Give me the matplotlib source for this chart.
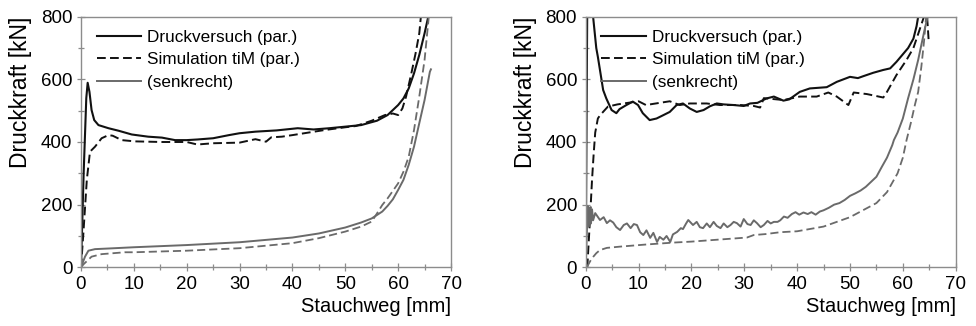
import matplotlib
matplotlib.use("Agg")
import matplotlib.pyplot as plt
from matplotlib.ticker import MultipleLocator

plt.rcParams['font.family'] = ['Liberation Sans', 'DejaVu Sans']

labels = ["Druckversuch (par.)", "Simulation tiM (par.)", "(senkrecht)"]
xlabel = "Stauchweg [mm]"
ylabel = "Druckkraft [kN]"

# ---- left panel ----
L_exp_par_x = [0, 0.5, 1.0, 1.26, 1.6, 2.0, 2.5, 3.3, 5.2, 7.1, 9.6, 12.7, 15.3, 17.8, 20, 22, 25, 28, 30, 33, 37,
               41, 44, 47, 50, 53, 56, 58, 60, 61, 62, 63, 64, 65, 65.7, 66.2]
L_exp_par_y = [0, 300, 540, 589, 560, 502, 470, 454, 444, 436, 424, 417, 414, 406, 406, 408, 412, 422, 428, 433, 437,
               444, 440, 444, 449, 454, 468, 486, 518, 539, 571, 619, 678, 747, 800, 860]
L_sim_par_x = [0, 0.45, 1.1, 1.7, 2.65, 3.9, 5.2, 6.0, 7.7, 10.2, 15.3, 20, 22, 25, 30, 33, 35, 36, 38, 40, 43,
               46, 50, 52, 55, 57.5, 59, 60, 60.8, 61.5, 62.5, 63.3, 64, 64.3, 64.6]
L_sim_par_y = [0, 109, 279, 369, 385, 412, 422, 420, 406, 402, 400, 400, 392, 396, 398, 409, 401, 415, 417, 422, 430,
               438, 447, 451, 468, 486, 491, 486, 507, 545, 619, 683, 747, 800, 850]
L_exp_sen_x = [0, 0.4, 0.76, 1.4, 2.65, 5.2, 10, 20, 30, 40, 45, 50, 53, 55, 57, 58, 59, 60, 61, 62, 63, 64, 65, 66, 66.2]
L_exp_sen_y = [0, 18, 34, 53, 58, 60, 64, 71, 80, 95, 108, 127, 143, 156, 178, 196, 217, 247, 279, 327, 385, 460, 534,
               624, 632]
L_sim_sen_x = [0, 0.5, 1.0, 2.0, 3.9, 8.3, 10, 20, 30, 40, 45, 50, 53, 55, 56, 57, 58, 60, 61, 62, 63, 64, 65, 65.8, 66.1]
L_sim_sen_y = [0, 10, 18, 34, 42, 48, 48, 53, 61, 77, 93, 114, 130, 146, 172, 199, 220, 268, 305, 353, 438, 545, 662,
               800, 860]

# ---- right panel ----
R_exp_par_x = [0, 0.3, 1.0, 1.4, 2.0, 2.3, 3.0, 3.3, 3.9, 4.9, 5.8, 6.4, 7.7, 8.9, 9.9, 10.8, 12.1, 13.4, 14.6, 15.9,
               17.2, 18.4, 19.7, 21, 22.3, 23.5, 24.8, 26.1, 28, 29.9, 31.1, 32.5, 34.2, 35.6, 37.4, 38.5, 40.5,
               42.4, 44, 45.6, 47.5, 50, 51.5, 52.5, 54.4, 56.3, 57.6, 58.8, 60, 61, 62, 62.6, 62.9, 63.3]
R_exp_par_y = [0, 850, 850, 800, 700, 672, 598, 566, 539, 502, 492, 505, 518, 529, 518, 492, 470, 475, 485, 496,
               518, 523, 507, 496, 502, 514, 523, 520, 518, 515, 523, 525, 539, 545, 532, 536, 560,
               571, 573, 575, 592, 608, 604, 610, 621, 630, 635, 656, 680, 700, 730, 770, 800, 850]
R_sim_par_x = [0.3, 0.8, 1.2, 1.5, 1.8, 2.3, 2.7, 3.5, 4.2, 6.0, 8.0, 10, 11.4, 14, 15.9, 17.8, 19.7, 22.9, 25.4,
               29.3, 31.8, 33, 33.7, 37.4, 40.5, 43.7, 45.9, 47.5, 49.7, 50.7, 53.2, 56.3, 56.9, 58.8, 60.7,
               62, 63, 64, 64.4, 64.9]
R_sim_par_y = [0, 150, 280, 360, 430, 475, 485, 500, 513, 520, 525, 530, 518, 525, 530, 518, 523, 523, 518,
               518, 515, 510, 540, 534, 545, 545, 558, 545, 518, 558, 553, 542, 557, 614, 662,
               700, 750, 800, 850, 720]
R_exp_sen_x = [0, 0.2, 0.4, 0.6, 0.8, 1.0, 1.2, 1.4, 1.8, 2.7, 3.4, 4.0, 4.6, 5.2, 5.8, 6.5, 7.2, 7.8, 8.5, 9.1,
               9.7, 10.3, 10.9, 11.5, 12.2, 12.8, 13.5, 14.0, 14.7, 15.3, 16.0, 16.5, 17.3, 18.0, 18.4, 19.0,
               19.4, 20.3, 21.0, 21.6, 22.2, 22.9, 23.5, 24.2, 24.8, 25.5, 26.1, 26.8, 27.4, 28.0, 28.6, 29.3,
               29.9, 30.6, 31.2, 31.8, 32.4, 33.1, 33.7, 34.4, 35.0, 35.6, 36.3, 36.8, 37.5, 38.2, 39.0, 39.7,
               40.4, 41.2, 42.0, 42.7, 43.5, 44.3, 45.0, 46.0, 47.0, 48.0, 49.0, 50.0, 51.0, 52.0, 53.0, 54.0,
               55.0, 56.0, 57.0, 58.0, 58.3, 59.0, 60.0, 61.0, 62.0, 62.9, 63.5, 64.2, 64.7]
R_exp_sen_y = [0, 100, 195, 130, 190, 140, 185, 150, 173, 151, 160, 141, 150, 143, 128, 119, 135, 140, 125, 138,
               135, 112, 103, 118, 94, 110, 81, 97, 88, 100, 81, 105, 113, 125, 122, 140,
               151, 135, 145, 128, 125, 140, 128, 145, 132, 125, 140, 128, 135, 145, 141, 130,
               154, 138, 135, 150, 141, 128, 135, 148, 140, 145, 145, 150, 162, 158, 170, 176,
               168, 175, 170, 176, 168, 178, 182, 190, 200, 205, 215, 228, 236, 245, 257, 273,
               289, 320, 350, 390, 406, 430, 475, 540, 600, 662, 710, 765, 800]
R_sim_sen_x = [0.2, 0.6, 1.0, 1.4, 2.0, 2.7, 4.0, 6.5, 11.6, 16.7, 20, 24, 30.5, 31.8, 34, 36.8, 40, 45, 50, 55, 57,
               59, 60, 60.7, 61.5, 62.3, 62.9, 63.5, 64.0, 64.4, 64.8]
R_sim_sen_y = [0, 12, 24, 33, 45, 55, 62, 66, 73, 79, 82, 87, 95, 103, 106, 112, 115, 130, 160, 205, 240,
               300, 350, 406, 460, 520, 560, 640, 720, 800, 860]

BLACK = '#111111'
GRAY = '#6a6a6a'
SPINE = '#8c8c8c'

fig = plt.figure(figsize=(9.76, 3.26), dpi=100)
axL = fig.add_axes([81 / 976, (326 - 267.3) / 326, 370 / 976, 250.6 / 326])
axR = fig.add_axes([585.7 / 976, (326 - 267.3) / 326, 370 / 976, 250.6 / 326])

panels = [
    (axL, L_exp_par_x, L_exp_par_y, L_sim_par_x, L_sim_par_y, L_exp_sen_x, L_exp_sen_y, L_sim_sen_x, L_sim_sen_y),
    (axR, R_exp_par_x, R_exp_par_y, R_sim_par_x, R_sim_par_y, R_exp_sen_x, R_exp_sen_y, R_sim_sen_x, R_sim_sen_y),
]

for ax, epx, epy, spx, spy, esx, esy, ssx, ssy in panels:
    l1, = ax.plot(epx, epy, color=BLACK, lw=1.5, label=labels[0])
    l2, = ax.plot(spx, spy, color=BLACK, lw=1.4, ls=(0, (4.5, 2.2)), label=labels[1])
    l3, = ax.plot(esx, esy, color=GRAY, lw=1.4, label=labels[2])
    ax.plot(ssx, ssy, color=GRAY, lw=1.3, ls=(0, (4.5, 2.2)))
    ax.set_xlim(0, 70)
    ax.set_ylim(0, 800)
    ax.xaxis.set_major_locator(MultipleLocator(10))
    ax.xaxis.set_minor_locator(MultipleLocator(5))
    ax.yaxis.set_major_locator(MultipleLocator(200))
    ax.yaxis.set_minor_locator(MultipleLocator(100))
    ax.tick_params(which='major', direction='inout', length=5.5, width=0.9, color=SPINE,
                   labelsize=13.5, labelcolor='black', pad=3.5)
    ax.tick_params(which='minor', direction='inout', length=4, width=0.9, color=SPINE)
    for s in ax.spines.values():
        s.set_color(SPINE)
        s.set_linewidth(1.0)
    ax.set_xlabel(xlabel, fontsize=14.5, loc='right', labelpad=3)
    ax.set_ylabel(ylabel, fontsize=16.5, loc='top', labelpad=6)
    ax.legend(handles=[l1, l2, l3], loc='upper left', bbox_to_anchor=(0.008, 1.0), frameon=False,
              fontsize=12.3, handlelength=2.6, handletextpad=0.35, labelspacing=0.45, borderaxespad=0.35)

fig.savefig("out.png", dpi=100)
